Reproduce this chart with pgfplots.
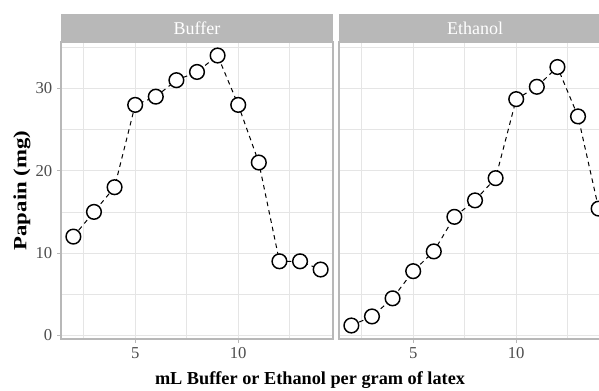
\documentclass[border=0pt]{standalone}
\usepackage{fontspec}
\setmainfont{Liberation Serif}
\usepackage{pgfplots}
\pgfplotsset{compat=1.18}
\definecolor{grey70}{gray}{0.72}
\definecolor{grey87}{gray}{0.90}
\definecolor{grey30}{gray}{0.30}
\pgfplotstableread{
x y
2 12
3 15
4 18
5 28
6 29
7 31
8 32
9 34
10 28
11 21
12 9
13 9
14 8
}\buffer
\pgfplotstableread{
x y
2 1.2
3 2.3
4 4.5
5 7.8
6 10.2
7 14.4
8 16.4
9 19.1
10 28.7
11 30.2
12 32.6
13 26.6
14 15.4
}\ethanol
\begin{document}
\begin{tikzpicture}
\pgfplotsset{
 facet/.style={
  scale only axis, width=204pt, height=222.75pt,
  anchor=south west,
  xmin=1.4, xmax=14.6, ymin=-0.44, ymax=35.64,
  xtick={5,10}, ytick={0,10,20,30},
  minor xtick={2.5,7.5,12.5}, minor ytick={5,15,25,35},
  grid=both,
  major grid style={grey87, line width=0.75pt},
  minor grid style={grey87, line width=0.4pt},
  axis line style={grey70, line width=0.8pt},
  tick style={grey70, line width=0.75pt},
  tick align=outside, major tick length=3pt, minor tick length=0pt,
  xtick pos=lower, ytick pos=left,
  /pgf/number format/assume math mode=true,
  ticklabel style={text=grey30, font=\fontsize{12.5}{12.5}\selectfont},
  clip=false,
 },
 pts/.style={black, dashed, line width=0.75pt, dash pattern=on 3.4pt off 3pt,
  mark=*, mark size=5.5pt, mark options={solid, fill=white, draw=black, line width=1.1pt}},
}
\begin{axis}[facet, name=L, at={(45.75pt,38.25pt)}]
\addplot[pts] table[x=x,y=y] {\buffer};
\end{axis}
\begin{axis}[facet, name=R, at={(254.25pt,38.25pt)}, yticklabels={}, ytick style={draw=none}]
\addplot[pts] table[x=x,y=y] {\ethanol};
\end{axis}
\fill[grey70] (L.north west) rectangle ([yshift=21pt]L.north east);
\fill[grey70] (R.north west) rectangle ([yshift=21pt]R.north east);
\node[white, font=\fontsize{13.5}{13.5}\selectfont] at ([yshift=10.5pt]L.north) {Buffer};
\node[white, font=\fontsize{13.5}{13.5}\selectfont] at ([yshift=10.5pt]R.north) {Ethanol};
\node[font=\fontsize{13.7}{13.7}\bfseries\selectfont] at (232.5pt,7.5pt) {mL Buffer or Ethanol per gram of latex};
\node[rotate=90, font=\fontsize{14}{14}\bfseries\selectfont] at (16.5pt,149.6pt) {\scalebox{1.22}[1]{Papain (mg)}};
\pgfresetboundingbox
\path[use as bounding box] (0pt,0pt) rectangle (449.25pt,292.5pt);
\end{tikzpicture}
\end{document}
